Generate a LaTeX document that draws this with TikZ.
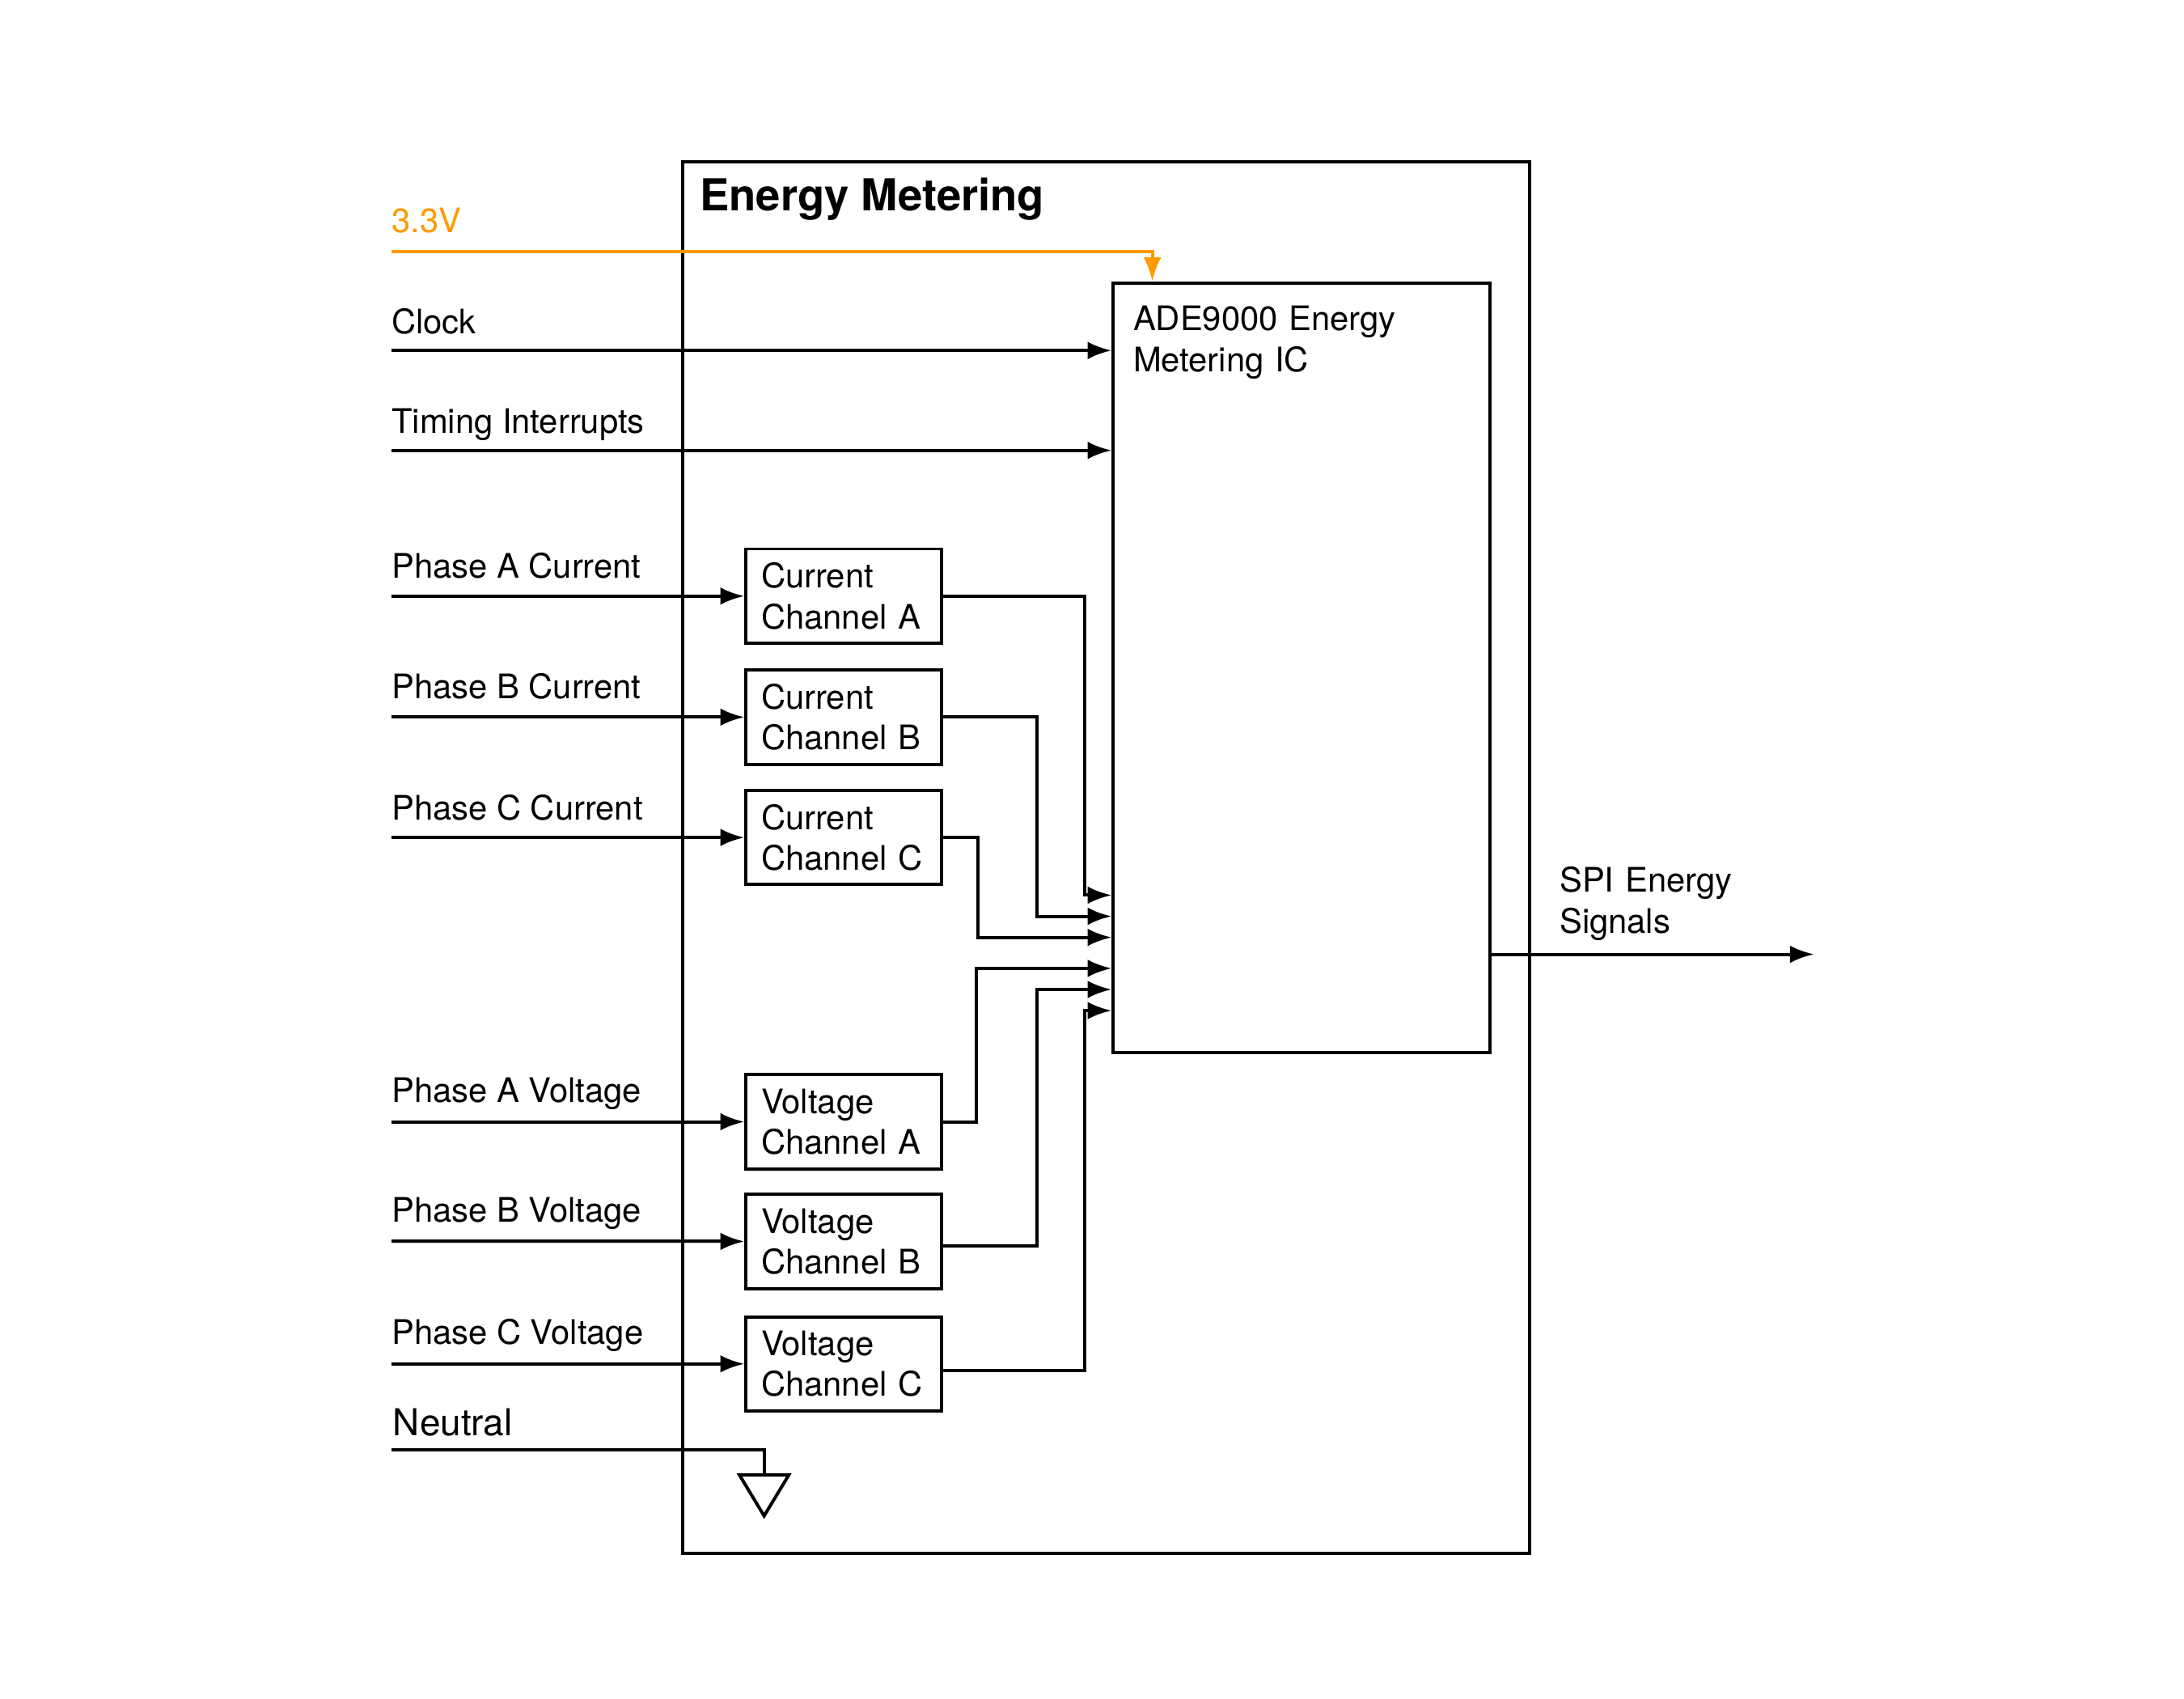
\documentclass[tikz,border=0pt]{standalone}
\usepackage{fontspec}
\setmainfont{TeX Gyre Heros}
\usetikzlibrary{arrows.meta}
\definecolor{supply}{RGB}{255,153,0}

\begin{document}
\begin{tikzpicture}[x=0.02cm,y=-0.02cm,
    every node/.style={font=\fontsize{13.66}{16.5}\selectfont},
    lbl/.style={anchor=base west,inner sep=0pt},
    wire/.style={line width=1.3pt},
    sig/.style={wire,-{Latex[length=0.34cm,width=0.25cm]}},
    chan/.style={draw,line width=1.3pt,minimum height=1.34cm,text width=2.34cm,
      inner xsep=0.22cm,inner ysep=0pt,align=left}]
      \useasboundingbox (0,0) rectangle (1552,1207);

      \node[draw,line width=1.3pt,minimum width=12.04cm,minimum height=19.78cm,inner sep=0pt] (meter) at (786,609.5) {};
      \node[lbl,font=\bfseries\fontsize{17.8}{21}\selectfont] (title) at (497,150) {Energy Metering};

      \node[draw,line width=1.3pt,minimum width=5.36cm,minimum height=10.94cm,inner sep=0pt] (ade) at (925,474.5) {};
      \node[lbl,text width=4cm,align=left] (adetxt) at (805,235) {ADE9000 Energy\\Metering IC};

      \node[chan] (cca) at (599.5,423.5) {Current\\Channel A};
      \node[chan] (ccb) at (599.5,509.5) {Current\\Channel B};
      \node[chan] (ccc) at (599.5,595) {Current\\Channel C};
      \node[chan] (vca) at (599.5,797) {Voltage\\Channel A};
      \node[chan] (vcb) at (599.5,882) {Voltage\\Channel B};
      \node[chan] (vcc) at (599.5,969) {Voltage\\Channel C};

      \node[lbl,text=supply] (lvin) at (278,165) {3.3V};
      \node[lbl] (lclk) at (278,237) {Clock};
      \node[lbl] (ltim) at (278,308) {Timing Interrupts};
      \node[lbl] (lpac) at (278,410.5) {Phase A Current};
      \node[lbl] (lpbc) at (278,496.5) {Phase B Current};
      \node[lbl] (lpcc) at (278,582.5) {Phase C Current};
      \node[lbl] (lpav) at (278,783) {Phase A Voltage};
      \node[lbl] (lpbv) at (278,868) {Phase B Voltage};
      \node[lbl] (lpcv) at (278,955) {Phase C Voltage};
      \node[lbl,font=\fontsize{15}{18}\selectfont] (lneu) at (279,1020) {Neutral};
      \node[lbl,text width=3cm,align=left] (lspi) at (1108,634) {SPI Energy\\Signals};

      \coordinate (vin) at (278,179);
      \coordinate (clk) at (278,249);
      \coordinate (tim) at (278,320);
      \coordinate (neu) at (278,1030);
      \coordinate (gnd) at (543,1048);
      \coordinate (spi) at (1289,678);

      \draw[sig,supply] (vin) -| ([xshift=0.58cm]ade.north west);
      \draw[sig] (clk) -- (clk -| ade.west);
      \draw[sig] (tim) -- (tim -| ade.west);

      \draw[sig] (lpac.base west |- cca.west) -- (cca.west);
      \draw[sig] (lpbc.base west |- ccb.west) -- (ccb.west);
      \draw[sig] (lpcc.base west |- ccc.west) -- (ccc.west);
      \draw[sig] (lpav.base west |- vca.west) -- (vca.west);
      \draw[sig] (lpbv.base west |- vcb.west) -- (vcb.west);
      \draw[sig] (lpcv.base west |- vcc.west) -- (vcc.west);

      \draw[sig] (cca.east) -| (771,636) -- (ade.west |- 0,636);
      \draw[sig] (ccb.east) -| (737,651) -- (ade.west |- 0,651);
      \draw[sig] (ccc.east) -| (695,666) -- (ade.west |- 0,666);
      \draw[sig] (vca.east) -| (694,688) -- (ade.west |- 0,688);
      \draw[sig] ([yshift=-0.06cm]vcb.east) -| (737,703) -- (ade.west |- 0,703);
      \draw[sig] ([yshift=-0.1cm]vcc.east) -| (771,718) -- (ade.west |- 0,718);

      \draw[sig] (ade.east |- spi) -- (spi);

      \draw[wire] (neu) -| (gnd);
      \draw[wire] (gnd) +(-17.5,0) -- +(17.5,0) -- (543,1077) -- cycle;
    \end{tikzpicture}
\end{document}
